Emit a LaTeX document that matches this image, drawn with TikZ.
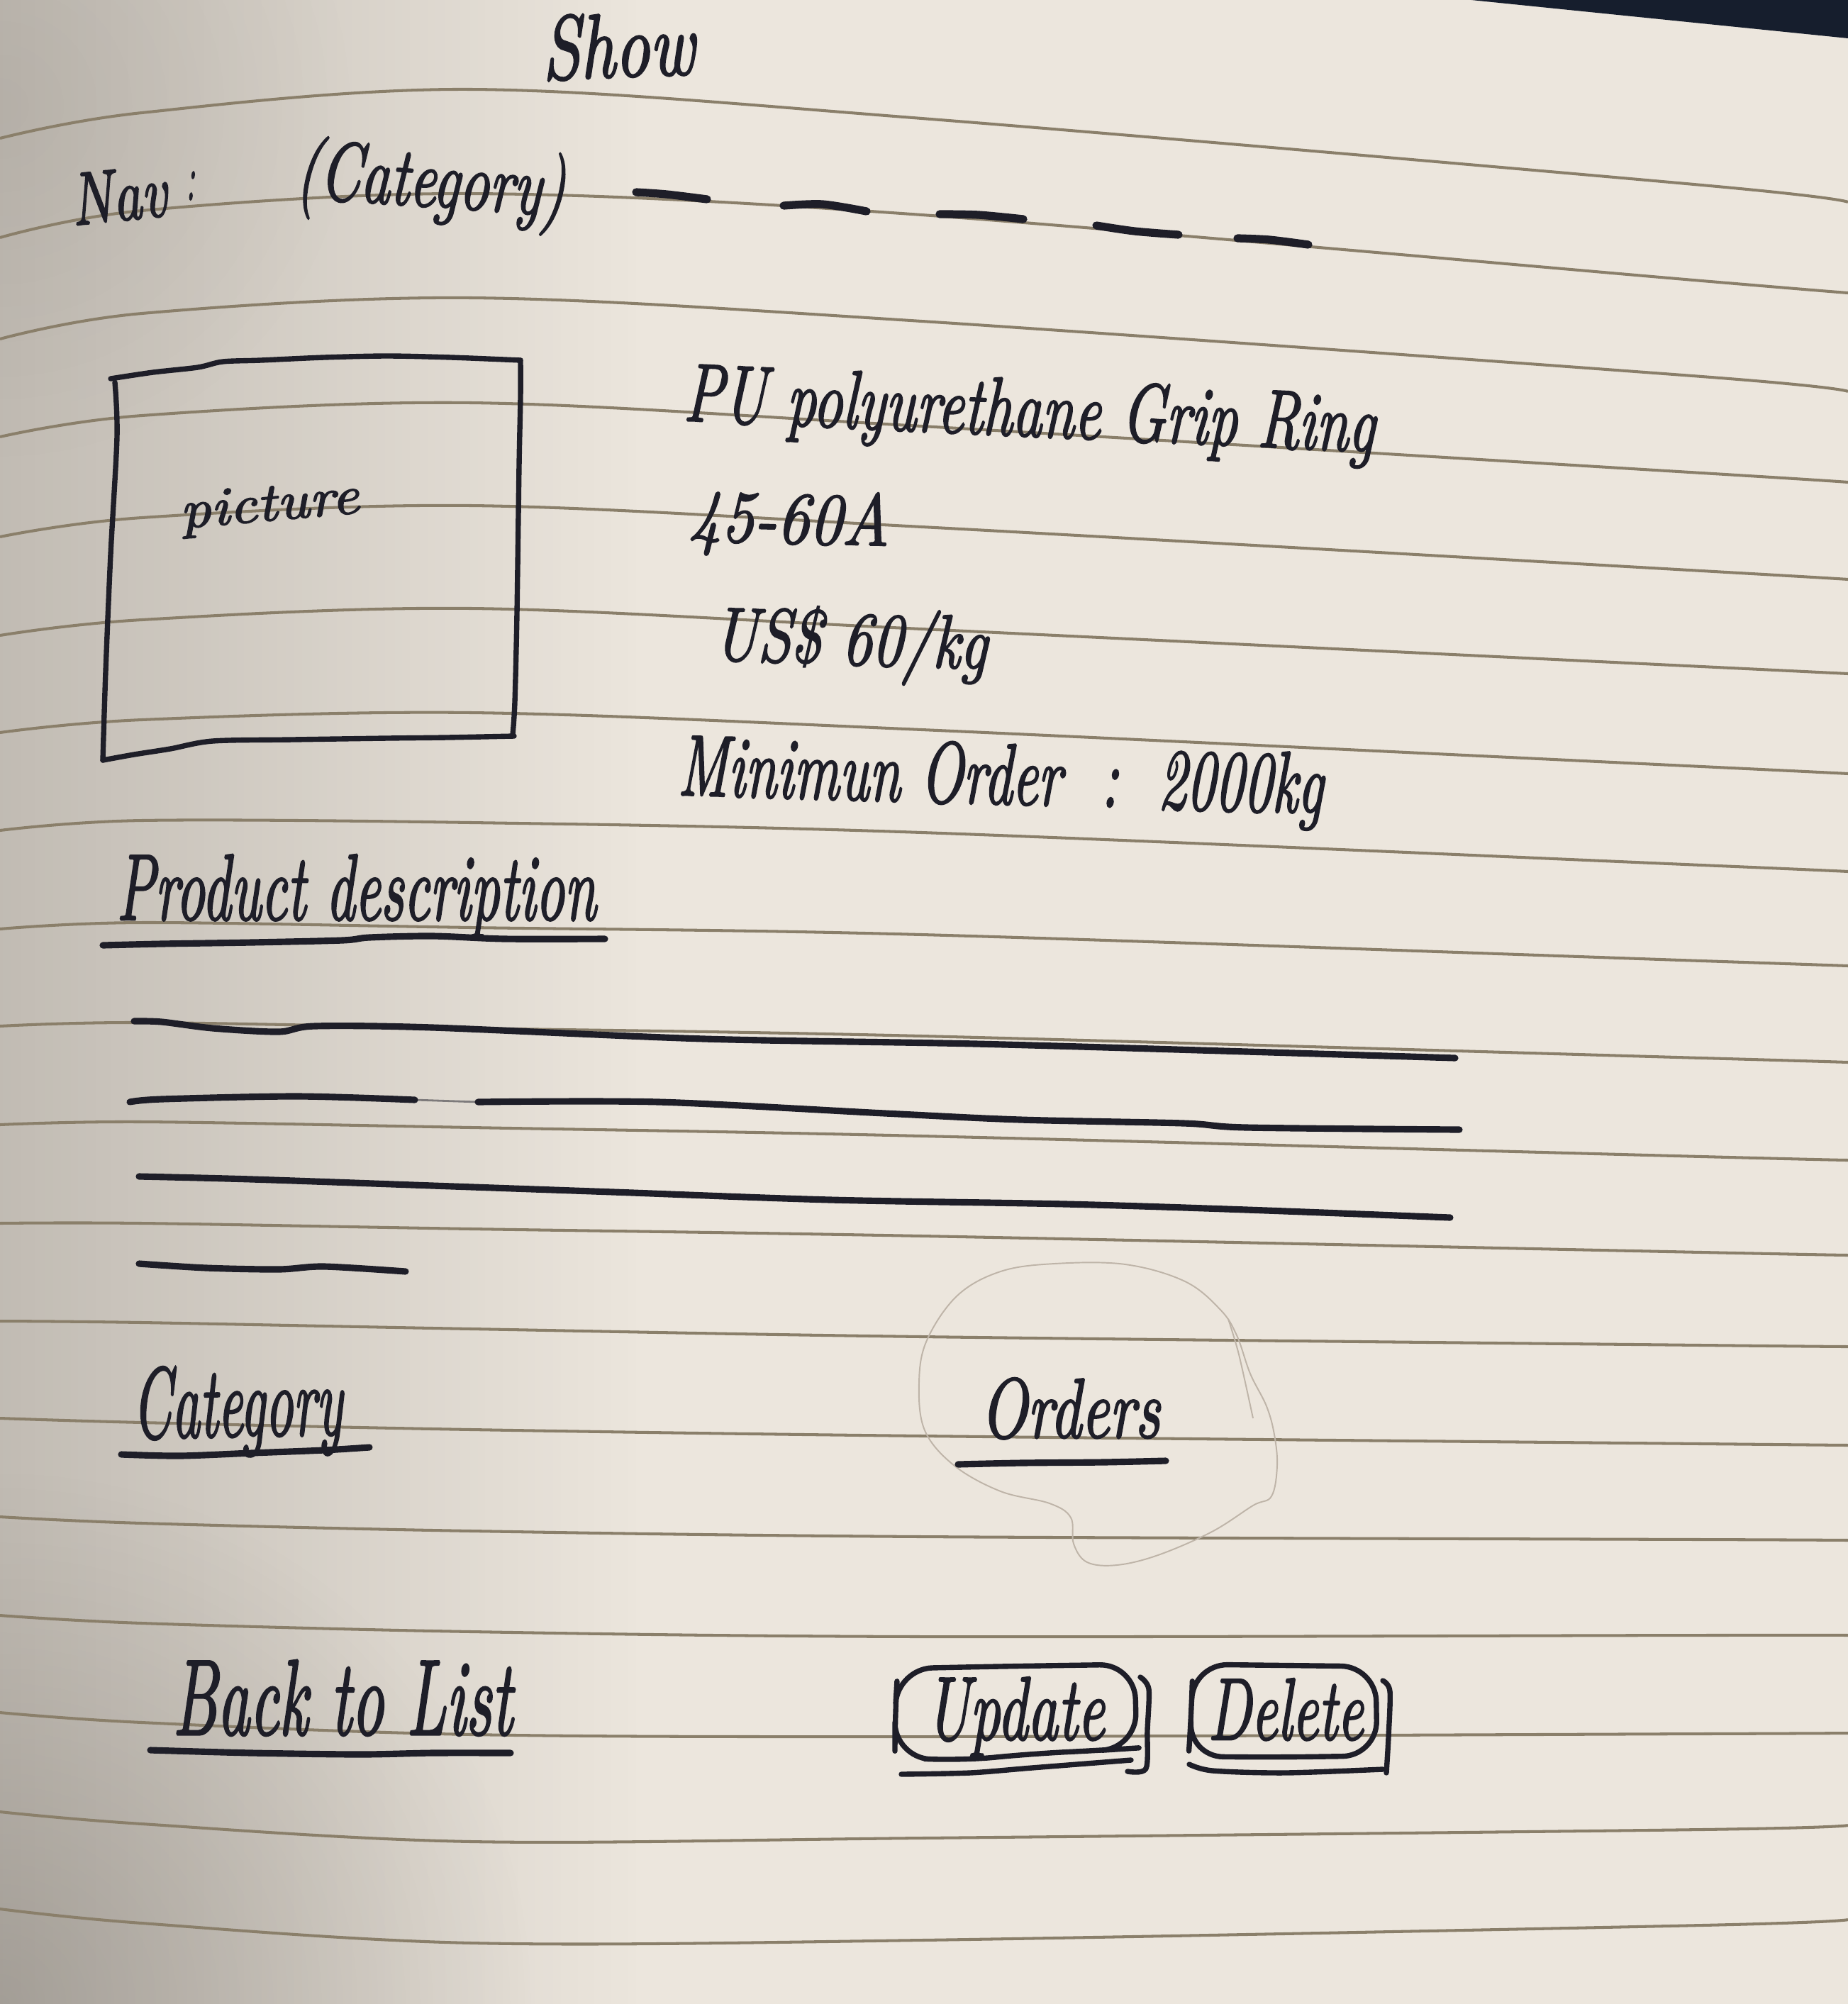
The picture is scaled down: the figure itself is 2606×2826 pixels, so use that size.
\documentclass[tikz,border=0pt]{standalone}
\usepackage{fontspec}
\usepackage{graphicx}
\usetikzlibrary{fadings}
\newfontfamily\handfont{lmroman10-italic.otf}[FakeBold=2.2]

\definecolor{paper}{RGB}{236,230,221}
\definecolor{shadowc}{RGB}{95,90,84}
\definecolor{ruledc}{RGB}{138,127,106}
\definecolor{ink}{RGB}{30,30,40}
\definecolor{pencilc}{RGB}{190,180,168}
\definecolor{deskc}{RGB}{22,30,45}

\newlength{\px}
\setlength{\px}{0.01cm}
% handwritten word: width, height above baseline (in px), text
\newcommand{\hw}[3]{\resizebox{#1\px}{#2\px}{\handfont #3}}

\tikzfading[name=fade to right, left color=transparent!0, right color=transparent!100]
\tikzfading[name=soft spot, inner color=transparent!0, outer color=transparent!100]

\tikzset{
  ruled/.style={draw=ruledc, line width=1.15pt},
  pen/.style={draw=ink, line width=2.6pt, line cap=round, line join=round},
  thinpen/.style={draw=ink, line width=2.1pt, line cap=round, line join=round},
  pencil/.style={draw=pencilc, line width=0.55pt},
  word/.style={anchor=base west, inner sep=0pt, text=ink},
}

\begin{document}
\begin{tikzpicture}[x=0.01cm, y=-0.01cm]
\useasboundingbox (0,0) rectangle (2606,2826);

% paper and lighting
\fill[paper] (0,0) rectangle (2606,2826);
\fill[shadowc, opacity=0.30, path fading=fade to right] (0,0) rectangle (900,2826);
\fill[shadowc, opacity=0.30, path fading=soft spot] (0,2826) circle (750);
\fill[shadowc, opacity=0.12, path fading=soft spot] (0,150) circle (500);

% desk visible behind the top right corner
\fill[deskc] (2075,0) -- (2606,0) -- (2606,54) -- cycle;

% ruled lines of the notebook page
\foreach \a/\b/\c/\d/\e/\f in {
  195/159/126/167/261/285,
  335/297/273/303/396/413,
  478/442/420/453/531/552,
  616/586/568/601/667/680,
  757/730/713/743/805/817,
  896/874/858/887/940/950,
  1033/1015/1005/1029/1081/1091,
  1171/1157/1160/1174/1220/1229,
  1310/1301/1308/1318/1355/1362,
  1447/1442/1450/1461/1492/1498,
  1586/1582/1590/1602/1631/1636,
  1725/1725/1733/1743/1766/1770,
  1863/1865/1874/1885/1897/1899,
  2000/2006/2016/2025/2036/2038,
  2139/2148/2159/2167/2171/2172,
  2278/2289/2301/2308/2306/2306,
  2415/2429/2446/2449/2445/2444,
  2555/2572/2597/2592/2580/2574,
  2692/2712/2740/2736/2715/2707}
  \draw[ruled] plot[smooth, tension=0.55] coordinates
    {(0,\a) (200,\b) (665,\c) (1300,\d) (2400,\e) (2606,\f)};

% title
\node[word, rotate=2] (show) at (765,112) {\hw{215}{90}{Show}};

% navigation row
\node[word, rotate=6] (nav) at (103,318) {\hw{135}{72}{Nav}};
\node[word] (navcolon) at (262,282) {\hw{12}{40}{:}};
\node[word, rotate=-4] (navcat) at (415,278) {\hw{380}{88}{(Category)}};
\draw[pen, line width=3.2pt] plot[smooth] coordinates {(897,271) (940,274) (997,281)};
\draw[pen, line width=3.2pt] plot[smooth] coordinates {(1105,290) (1160,288) (1222,298)};
\draw[pen, line width=3.2pt] plot[smooth] coordinates {(1325,302) (1380,303) (1443,309)};
\draw[pen, line width=3.2pt] plot[smooth] coordinates {(1546,318) (1600,326) (1662,331)};
\draw[pen, line width=3.2pt] plot[smooth] coordinates {(1745,336) (1790,338) (1845,345)};

% picture placeholder box
\draw[thinpen] plot[smooth] coordinates {(156,534) (216,525) (279,518) (314,510) (368,508) (457,504) (546,502) (636,504) (734,508)};
\draw[thinpen] plot[smooth] coordinates {(734,508) (734,560) (732,657) (729,865) (726,990) (723,1036)};
\draw[thinpen] plot[smooth] coordinates {(725,1038) (630,1040) (546,1041) (412,1043) (300,1045) (240,1056) (189,1064) (145,1072)};
\draw[thinpen] plot[smooth] coordinates {(145,1072) (149,947) (156,782) (165,616) (162,539)};
\node[word, rotate=5] (pic) at (255,745) {\hw{253}{50}{picture}};

% product facts
\node[word, rotate=-2.6] (name) at (963,593) {\hw{975}{82}{PU polyurethane Grip Ring}};
\node[word, rotate=-1.5] (hardness) at (970,762) {\hw{283}{74}{45-60A}};
\node[word, rotate=-2] (price) at (1005,930) {\hw{386}{80}{US\$ 60/kg}};
\node[word, rotate=-1.6] (moq) at (955,1121) {\hw{910}{86}{Minimun Order\ \ :\ \ 2000kg}};

% product description heading and placeholder text lines
\node[word] (desc) at (164,1297) {\hw{676}{92}{Product description}};
\draw[pen] plot[smooth] coordinates {(145,1333) (228,1331) (355,1329) (483,1326) (521,1322) (610,1320) (712,1324) (853,1324)};
\draw[pen] plot[smooth] coordinates {(189,1440) (228,1441) (300,1450) (393,1455) (444,1447) (610,1449) (993,1465) (1376,1472) (1758,1483) (2052,1492)};
\draw[pen] plot[smooth] coordinates {(183,1554) (228,1550) (419,1546) (585,1551)};
\draw[pen, line width=0.8pt, opacity=0.5] (585,1551) -- (674,1554);
\draw[pen] plot[smooth] coordinates {(674,1554) (929,1554) (1248,1570) (1439,1579) (1669,1584) (1758,1590) (2058,1593)};
\draw[pen] plot[smooth] coordinates {(196,1659) (355,1663) (610,1672) (865,1681) (1171,1692) (1503,1698) (1758,1706) (2045,1717)};
\draw[pen] plot[smooth] coordinates {(196,1782) (291,1788) (393,1790) (457,1786) (572,1793)};

% related links
\node[word, rotate=1] (cat) at (187,2028) {\hw{296}{100}{Category}};
\draw[pen] plot[smooth] coordinates {(171,2051) (253,2053) (355,2049) (457,2045) (521,2041)};

\draw[pencil] plot[smooth cycle, tension=0.6] coordinates {
  (1307,1890) (1350,1827) (1411,1793) (1487,1782) (1587,1783) (1671,1807)
  (1721,1847) (1744,1883) (1763,1937) (1786,1983) (1797,2023) (1801,2067)
  (1793,2110) (1767,2123) (1709,2160) (1633,2193) (1575,2207) (1533,2203)
  (1514,2177) (1510,2140) (1480,2120) (1411,2103) (1346,2067) (1304,2017)
  (1296,1950)};
\draw[pencil] plot[smooth] coordinates {(1732,1860) (1747,1910) (1767,2000)};
\node[word] (orders) at (1382,2027) {\hw{253}{84}{Orders}};
\draw[pen] plot[smooth] coordinates {(1351,2065) (1441,2063) (1556,2062) (1644,2060)};

% footer actions
\node[word] (back) at (243,2446) {\hw{479}{105}{Back to List}};
\draw[pen] plot[smooth] coordinates {(212,2468) (355,2472) (508,2474) (610,2472) (720,2472)};

% update button with its doubled outline
\draw[thinpen, rounded corners=14] (1262,2420) -- (1266,2353) -- (1404,2350) -- (1600,2347)
  -- (1603,2465) -- (1557,2468) -- (1455,2473) -- (1353,2483) -- (1262,2478) -- cycle;
\draw[thinpen] plot[smooth] coordinates {(1271,2502) (1368,2500) (1455,2493) (1595,2482)};
\draw[thinpen] plot[smooth] coordinates {(1608,2365) (1620,2382) (1618,2440) (1616,2494) (1590,2498)};
\node[word] (update) at (1305,2453) {\hw{252}{88}{Update}};

% delete button with its doubled outline
\draw[thinpen, rounded corners=14] (1680,2420) -- (1682,2347) -- (1940,2350)
  -- (1942,2476) -- (1800,2478) -- (1676,2477) -- cycle;
\draw[thinpen] plot[smooth] coordinates {(1677,2488) (1710,2497) (1812,2500) (1950,2495)};
\draw[thinpen] plot[smooth] coordinates {(1950,2370) (1960,2385) (1958,2450) (1955,2500)};
\node[word] (delete) at (1703,2453) {\hw{219}{86}{Delete}};

\end{tikzpicture}
\end{document}
